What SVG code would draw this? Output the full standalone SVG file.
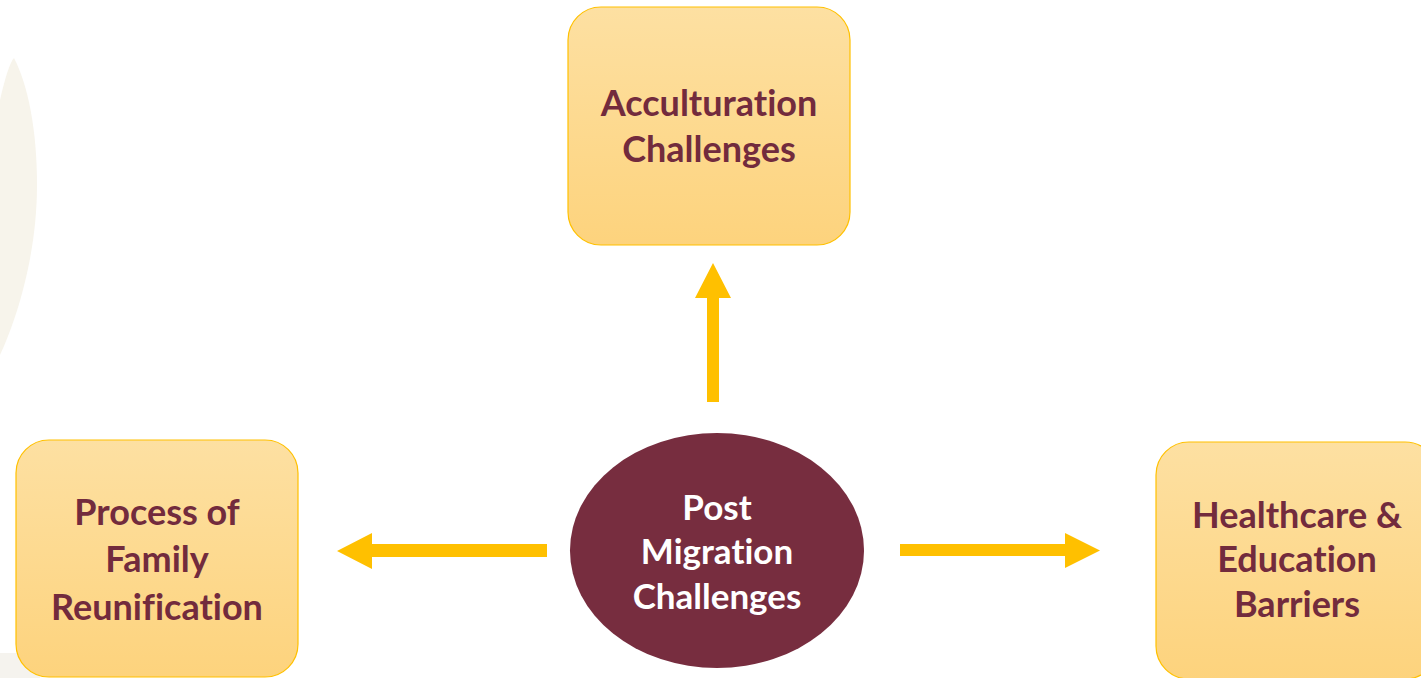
<svg xmlns="http://www.w3.org/2000/svg" width="1421" height="678" viewBox="0 0 1421 678">
  <defs>
    <linearGradient id="boxFill" x1="0" y1="0" x2="0" y2="1">
      <stop offset="0" stop-color="#fde0a2"/>
      <stop offset="1" stop-color="#fdd37d"/>
    </linearGradient>
    <style>
      .box { fill: url(#boxFill); stroke: #ffc000; stroke-width: 1.2; }
      .label { font-family: "Lato", "Open Sans", sans-serif; font-weight: bold; font-size: 36px; text-anchor: middle; fill: #722b3d; font-variant-ligatures: none; }
      .hub-label { fill: #ffffff; font-size: 35px; }
      .arrow { fill: #ffc000; }
      .hub { fill: #772d3f; }
    </style>
  </defs>

  <!-- page background and faint decoration -->
  <rect width="1421" height="678" fill="#ffffff"/>
  <path d="M0,100 C5,78 10,62 14,58 C28,85 37,130 37,185 C37,255 17,318 0,355 Z" fill="#f7f4eb"/>
  <rect x="0" y="653" width="40" height="25" fill="#f5f3ee"/>

  <!-- connectors -->
  <g id="connectors">
    <polygon class="arrow" points="707,402 707,298 695,298 713,263 731,298 719,298 719,402"/>
    <polygon class="arrow" points="547,544 372,544 372,533 337,551 372,569 372,557 547,557"/>
    <polygon class="arrow" points="900,544 1065,544 1065,533 1100,550.5 1065,568 1065,556 900,556"/>
  </g>

  <g id="acculturation">
    <rect class="box" x="568" y="7" width="282" height="238" rx="33"/>
    <text class="label" x="709" y="116">Acculturation</text>
    <text class="label" x="709" y="162">Challenges</text>
  </g>

  <g id="family-reunification">
    <rect class="box" x="16" y="440" width="282" height="237" rx="33"/>
    <text class="label" x="157" y="525">Process of</text>
    <text class="label" x="157" y="572">Family</text>
    <text class="label" x="157" y="620">Reunification</text>
  </g>

  <g id="healthcare-education">
    <rect class="box" x="1156" y="442" width="282" height="237" rx="33"/>
    <text class="label" x="1297" y="528">Healthcare &amp;</text>
    <text class="label" x="1297" y="572">Education</text>
    <text class="label" x="1297" y="617">Barriers</text>
  </g>

  <g id="post-migration">
    <ellipse class="hub" cx="717" cy="550.5" rx="147" ry="117.5"/>
    <text class="label hub-label" x="717" y="520">Post</text>
    <text class="label hub-label" x="717" y="564">Migration</text>
    <text class="label hub-label" x="717" y="609">Challenges</text>
  </g>
</svg>
